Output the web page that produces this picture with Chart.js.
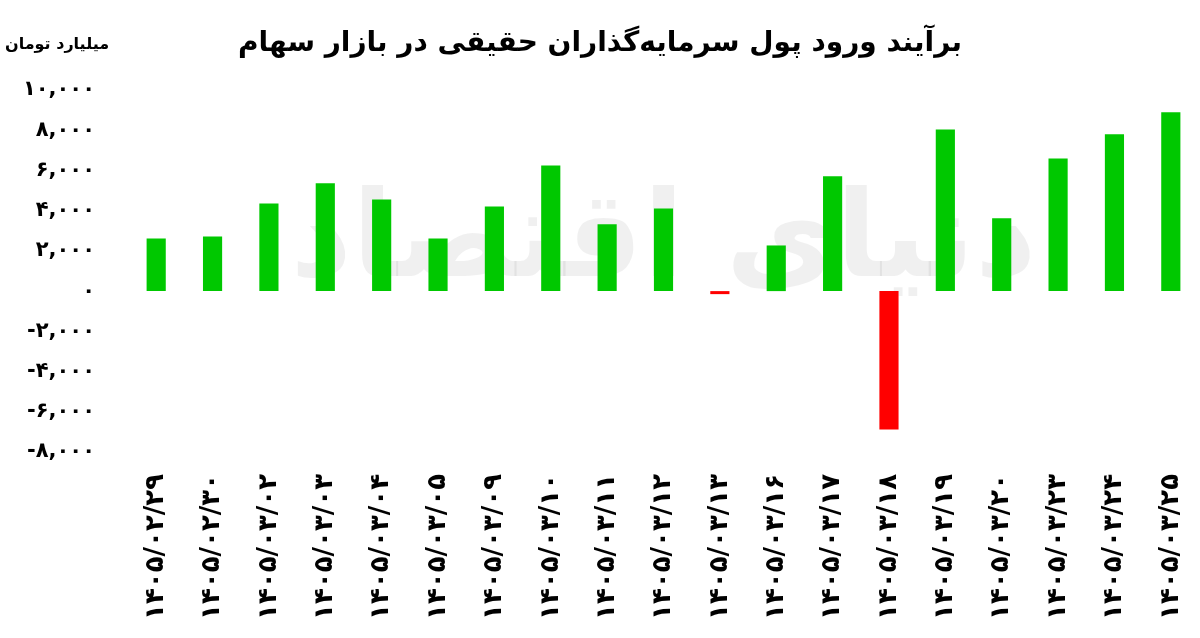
<!DOCTYPE html>
<html>
<head>
<meta charset="utf-8">
<script src="https://cdn.jsdelivr.net/npm/chart.js@4.4.1/dist/chart.umd.min.js"></script>
<style>
  html, body { margin: 0; padding: 0; background: #fff; }
</style>
</head>
<body>
<canvas id="flow-chart" width="1200" height="638"></canvas>
<script>
const dates = ['1405/02/29', '1405/02/30', '1405/03/02', '1405/03/03', '1405/03/04', '1405/03/05', '1405/03/09',
  '1405/03/10', '1405/03/11', '1405/03/12', '1405/03/13', '1405/03/16', '1405/03/17', '1405/03/18',
  '1405/03/19', '1405/03/20', '1405/03/23', '1405/03/24', '1405/03/25'];
const netFlow = [2620, 2720, 4360, 5360, 4560, 2620, 4210, 6250, 3320, 4110, -150, 2270, 5710, -6880,
  8040, 3620, 6600, 7800, 8890];
const yTicks = [10000, 8000, 6000, 4000, 2000, 0, -2000, -4000, -6000, -8000];

const titleText = 'برآیند ورود پول سرمایه‌گذاران حقیقی در بازار سهام';
const unitText = 'میلیارد تومان';

const faDigits = '۰۱۲۳۴۵۶۷۸۹';
const toFa = s => String(s).replace(/[0-9]/g, d => faDigits[d]);
const fmt = v => (v < 0 ? '-' : '') + toFa(Math.abs(v).toLocaleString('en-US'));

(function () {
  const canvas = document.getElementById('flow-chart');
  const FONT = "'DejaVu Sans', sans-serif";

  const headerPlugin = {
    id: 'header',
    beforeDatasetsDraw(chart) {
      const ctx = chart.ctx;
      const area = chart.chartArea;
      ctx.save();
      // faint watermark
      ctx.fillStyle = 'rgba(0,0,0,0.06)';
      ctx.font = 'bold 120px ' + FONT;
      ctx.textAlign = 'center';
      ctx.textBaseline = 'middle';
      ctx.direction = 'rtl';
      ctx.fillText('دنیای اقتصاد', (area.left + area.right) / 2, 245);
      ctx.restore();
    },
    afterDraw(chart) {
      const ctx = chart.ctx;
      ctx.save();
      ctx.fillStyle = '#000';
      ctx.direction = 'rtl';
      ctx.textBaseline = 'middle';
      ctx.textAlign = 'center';
      ctx.font = 'bold 28px ' + FONT;
      ctx.fillText(titleText, 600, 44);
      ctx.textAlign = 'left';
      ctx.direction = 'ltr';
      ctx.font = 'bold 16px ' + FONT;
      ctx.fillText(unitText, 5, 45);
      ctx.restore();
    }
  };

  new Chart(canvas, {
    type: 'bar',
    data: {
      labels: dates.map(toFa),
      datasets: [{
        data: netFlow,
        backgroundColor: netFlow.map(v => v < 0 ? '#ff0000' : '#00c800'),
        barPercentage: 0.34,
        categoryPercentage: 1
      }]
    },
    options: {
      responsive: false,
      animation: false,
      layout: { padding: { top: 90, right: 1, bottom: 0, left: 0 } },
      scales: {
        x: {
          grid: { display: false },
          border: { display: false },
          ticks: {
            autoSkip: false,
            minRotation: 90,
            maxRotation: 90,
            padding: 14,
            color: '#000',
            font: { family: FONT, size: 26, weight: 'bold' }
          },
          afterFit: s => { s.height = 186; s.paddingLeft = 0; s.paddingRight = 0; }
        },
        y: {
          min: -8000,
          max: 10000,
          grid: { display: false },
          border: { display: false },
          afterBuildTicks: s => { s.ticks = yTicks.map(v => ({ value: v })); },
          afterFit: s => { s.width = 128; },
          ticks: {
            padding: 25,
            color: '#000',
            font: { family: FONT, size: 21, weight: 'bold' },
            callback: v => fmt(v)
          }
        }
      },
      plugins: {
        legend: { display: false },
        tooltip: { enabled: false }
      }
    },
    plugins: [headerPlugin]
  });
})();
</script>
</body>
</html>
